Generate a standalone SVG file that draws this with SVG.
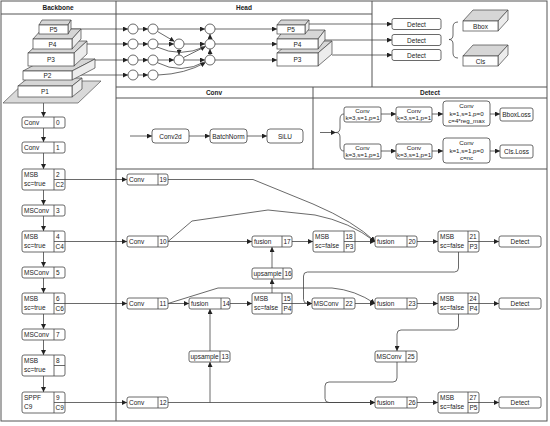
<svg xmlns="http://www.w3.org/2000/svg" width="550" height="426" viewBox="0 0 550 426">
<defs>
<marker id="ar" markerUnits="userSpaceOnUse" markerWidth="5" markerHeight="5" refX="5" refY="2.5" orient="auto"><path d="M0,0 L5,2.5 L0,5 z" fill="#222"/></marker>
<style>
.fr{fill:none;stroke:#555;stroke-width:1}
.nd{fill:#fff;stroke:#444;stroke-width:0.8}
.dv{stroke:#444;stroke-width:0.8}
.ln{fill:none;stroke:#444;stroke-width:0.8}
.a{marker-end:url(#ar)}
.t{font-family:"Liberation Sans",Arial,sans-serif;font-size:6.5px;fill:#222}
.s{font-size:6.2px}
.m{text-anchor:middle}
.h{font-weight:bold;text-anchor:middle;font-size:6.5px}
.top{fill:#d6d6d6;stroke:#444;stroke-width:0.7}
.side{fill:#ececec;stroke:#444;stroke-width:0.7}
.fc{fill:#fff;stroke:#444;stroke-width:0.7}
.pl{fill:#d9d9d9;stroke:#555;stroke-width:0.7}
.c{fill:#fff;stroke:#444;stroke-width:0.8}
</style>
</defs>
<rect width="550" height="426" fill="#fff"/>
<g id="frame" class="fr">
<rect x="1" y="1" width="546" height="420"/>
<line x1="116" y1="1" x2="116" y2="421"/>
<line x1="1" y1="14" x2="372" y2="14"/>
<line x1="372" y1="1" x2="372" y2="87"/>
<line x1="116" y1="87" x2="547" y2="87"/>
<line x1="116" y1="98" x2="547" y2="98"/>
<line x1="313" y1="87" x2="313" y2="169"/>
<line x1="116" y1="169" x2="547" y2="169"/>
</g>
<g id="headers" class="t">
<text class="t h" x="58" y="10">Backbone</text>
<text class="t h" x="244" y="10">Head</text>
<text class="t h" x="214" y="95">Conv</text>
<text class="t h" x="430" y="95">Detect</text>
</g>
<g id="connectors" class="ln">
<path class="a" d="M60,29 H128"/>
<path class="a" d="M60,44 H128"/>
<path class="a" d="M60,60 H128"/>
<path class="a" d="M60,75 H128"/>
<path class="a" d="M138,29 H148"/><path class="a" d="M138,44 H148"/><path class="a" d="M138,60 H148"/><path class="a" d="M138,75 H148"/>
<path class="a" d="M158,29 H205"/><path class="a" d="M215,29 H277"/>
<path class="a" d="M158,44 H174"/><path class="a" d="M184,44 H205"/><path class="a" d="M215,44 H277"/>
<path class="a" d="M158,60 H174"/><path class="a" d="M184,60 H205"/><path class="a" d="M215,60 H277"/>
<path class="a" d="M157.5,31.5 L174.5,41.5"/>
<path class="a" d="M179,49 V55"/>
<path class="a" d="M183.5,57.5 L205.5,46.5"/>
<path d="M157,47 Q180,58 205.5,46.5"/>
<path class="a" d="M210,55 V49"/>
<path class="a" d="M210,39 V34"/>
<path d="M157,62.5 Q181,75 205.5,61.5"/>
<path class="a" d="M158,75 Q185,74 205.5,62.5"/>
<path class="a" d="M309,24 H392"/>
<path class="a" d="M325,40 H392"/>
<path class="a" d="M332,55 H392"/>
<path d="M458,22 Q453,22 453,27 V35 Q453,39.5 449,39.5 Q453,39.5 453,44 V53 Q453,58 458,58"/>
<path class="a" d="M130,136 H152"/><path class="a" d="M189,136 H210"/><path class="a" d="M247,136 H267"/>
<path class="a" d="M320,132.5 H336"/>
<path d="M344,114 Q340,114 340,119 V128 Q340,132.5 336,132.5 Q340,132.5 340,137 V146 Q340,151 344,151"/>
<path class="a" d="M381,114 H396"/><path class="a" d="M432,114 H443"/><path class="a" d="M490,114 H500"/>
<path class="a" d="M381,151 H396"/><path class="a" d="M432,151 H443"/><path class="a" d="M490,151 H500"/>
<path class="a" d="M43.5,103 V117"/><path class="a" d="M43.5,128 V142"/><path class="a" d="M43.5,153 V169"/>
<path class="a" d="M43.5,190 V205"/><path class="a" d="M43.5,216 V231"/><path class="a" d="M43.5,252 V267"/>
<path class="a" d="M43.5,278 V293"/><path class="a" d="M43.5,314 V329"/><path class="a" d="M43.5,340 V355"/>
<path class="a" d="M43.5,376 V392"/>
<path class="a" d="M65,179.5 H127"/><path class="a" d="M65,241.5 H127"/>
<path class="a" d="M65,303.5 H127"/><path class="a" d="M65,402.5 H127"/>
<path class="a" d="M168,179.5 H253 L313,204 Q355,222 375,241.5"/>
<path class="a" d="M168,241.5 L192,221 L268,210 L315,215 Q350,222 375,241.5"/>
<path class="a" d="M168,241.5 H252"/>
<path class="a" d="M292,241.5 H313"/>
<path class="a" d="M355,241.5 H375"/>
<path class="a" d="M417,241.5 H438"/>
<path class="a" d="M479,241.5 H499"/>
<path class="a" d="M458.5,252 V268 Q458.5,272 454.5,272 H307.5 Q303.5,272 303.5,276 V299.5 Q303.5,303.5 307.5,303.5 H312"/>
<path class="a" d="M292,303.5 H312"/>
<path class="a" d="M272,293 V279"/>
<path class="a" d="M272,268 V247"/>
<path class="a" d="M168,303.5 H189"/>
<path class="a" d="M168,303.5 L218,288 H332 Q355,290 375,303.5"/>
<path class="a" d="M230,303.5 H252"/>
<path class="a" d="M210,351 V309"/>
<path class="a" d="M168,402.5 H375"/>
<path class="a" d="M210,402.5 V362"/>
<path class="a" d="M355,303.5 H375"/>
<path class="a" d="M417,303.5 H438"/>
<path class="a" d="M479,303.5 H499"/>
<path class="a" d="M458.5,314 V326 Q458.5,330 454.5,330 H401 Q397,330 397,334 V351"/>
<path class="a" d="M397,362 V378 Q397,382 393,382 H329 Q325,382 325,386 V398.5 Q325,402.5 329,402.5 H375"/>
<path class="a" d="M417,402.5 H438"/>
<path class="a" d="M479,402.5 H499"/>
</g>
<g id="pyramid">
<polygon class="pl" points="3,103 78,103 101,81 26,81"/>
<g id="P1"><polygon class="top" points="18,86 28,78 82,78 72,86"/><polygon class="side" points="72,86 82,78 82,89 72,97"/><rect class="fc" x="18" y="86" width="54" height="11"/><text class="t m" x="45" y="94">P1</text></g>
<g id="P2"><polygon class="top" points="23,71 45,59 95,59 72,71"/><polygon class="side" points="72,71 95,59 95,68 72,80"/><rect class="fc" x="23" y="71" width="49" height="9"/><text class="t m" x="47.5" y="78">P2</text></g>
<g id="P3"><polygon class="top" points="28,53 41,41 87,41 74,53"/><polygon class="side" points="74,53 87,41 87,54 74,66"/><rect class="fc" x="28" y="53" width="46" height="13"/><text class="t m" x="51" y="62">P3</text></g>
<g id="P4"><polygon class="top" points="33,39 42,29 81,29 72,39"/><polygon class="side" points="72,39 81,29 81,39 72,49"/><rect class="fc" x="33" y="39" width="39" height="10"/><text class="t m" x="52.5" y="46.5">P4</text></g>
<g id="P5"><polygon class="top" points="39,25 42,20 71,20 68,25"/><polygon class="side" points="68,25 71,20 71,29 68,34"/><rect class="fc" x="39" y="25" width="29" height="9"/><text class="t m" x="53.5" y="32">P5</text></g>
</g>
<g id="head-circles">
<circle class="c" cx="133" cy="29" r="5"/><circle class="c" cx="133" cy="44" r="5"/><circle class="c" cx="133" cy="60" r="5"/><circle class="c" cx="133" cy="75" r="5"/>
<circle class="c" cx="153" cy="29" r="5"/><circle class="c" cx="153" cy="44" r="5"/><circle class="c" cx="153" cy="60" r="5"/><circle class="c" cx="153" cy="75" r="5"/>
<circle class="c" cx="179" cy="44" r="5"/><circle class="c" cx="179" cy="60" r="5"/>
<circle class="c" cx="210" cy="29" r="5"/><circle class="c" cx="210" cy="44" r="5"/><circle class="c" cx="210" cy="60" r="5"/>
</g>
<g id="head-P3"><polygon class="top" points="277,53 291,41 332,41 318,53"/><polygon class="side" points="318,53 332,41 332,54 318,66"/><rect class="fc" x="277" y="53" width="41" height="13"/><text class="t m" x="297.5" y="62">P3</text></g>
<g id="head-P4"><polygon class="top" points="277,39 284,30 325,30 318,39"/><polygon class="side" points="318,39 325,30 325,40 318,49"/><rect class="fc" x="277" y="39" width="41" height="10"/><text class="t m" x="297.5" y="46.5">P4</text></g>
<g id="head-P5"><polygon class="top" points="277,25 281,20 309,20 305,25"/><polygon class="side" points="305,25 309,20 309,29 305,34"/><rect class="fc" x="277" y="25" width="28" height="9"/><text class="t m" x="291" y="32">P5</text></g>
<g id="top-detect1"><rect class="nd" x="392" y="18.5" width="49" height="11" rx="2"/><text class="t m" x="416.5" y="26.5">Detect</text></g>
<g id="top-detect2"><rect class="nd" x="392" y="34.5" width="49" height="11" rx="2"/><text class="t m" x="416.5" y="42.5">Detect</text></g>
<g id="top-detect3"><rect class="nd" x="392" y="49.5" width="49" height="11" rx="2"/><text class="t m" x="416.5" y="57.5">Detect</text></g>
<g id="bbox"><polygon class="top" points="463,21 473,10 508,10 498,21"/><polygon class="side" points="498,21 508,10 508,20 498,31"/><rect class="fc" x="463" y="21" width="35" height="10"/><text class="t m" x="480.5" y="28.5">Bbox</text></g>
<g id="cls"><polygon class="top" points="463,56 473,45 508,45 498,56"/><polygon class="side" points="498,56 508,45 508,55 498,66"/><rect class="fc" x="463" y="56" width="35" height="10"/><text class="t m" x="480.5" y="63.5">Cls</text></g>
<g id="conv2d"><rect class="nd" x="152" y="129" width="37" height="14" rx="3"/><text class="t m" x="170.5" y="138.5">Conv2d</text></g>
<g id="batchnorm"><rect class="nd" x="210" y="129" width="37" height="14" rx="3"/><text class="t m" x="228.5" y="138.5">BatchNorm</text></g>
<g id="silu"><rect class="nd" x="267" y="129" width="36" height="14" rx="3"/><text class="t m" x="285" y="138.5">SiLU</text></g>
<g id="d-conv-a1"><rect class="nd" x="344" y="107" width="37" height="15" rx="2"/><text class="t m s" x="362.5" y="113">Conv</text><text class="t m s" x="362.5" y="120">k=3,s=1,p=1</text></g>
<g id="d-conv-a2"><rect class="nd" x="396" y="107" width="36" height="15" rx="2"/><text class="t m s" x="414" y="113">Conv</text><text class="t m s" x="414" y="120">k=3,s=1,p=1</text></g>
<g id="d-conv-a3"><rect class="nd" x="443" y="101" width="47" height="25" rx="3"/><text class="t m s" x="466.5" y="108">Conv</text><text class="t m s" x="466.5" y="115.5">k=1,s=1,p=0</text><text class="t m s" x="466.5" y="123">c=4*reg_max</text></g>
<g id="bboxloss"><rect class="nd" x="500" y="108" width="33" height="13" rx="2"/><text class="t m" x="516.5" y="116.5">BboxLoss</text></g>
<g id="d-conv-b1"><rect class="nd" x="344" y="144" width="37" height="15" rx="2"/><text class="t m s" x="362.5" y="150">Conv</text><text class="t m s" x="362.5" y="157">k=3,s=1,p=1</text></g>
<g id="d-conv-b2"><rect class="nd" x="396" y="144" width="36" height="15" rx="2"/><text class="t m s" x="414" y="150">Conv</text><text class="t m s" x="414" y="157">k=3,s=1,p=1</text></g>
<g id="d-conv-b3"><rect class="nd" x="443" y="138" width="47" height="25" rx="3"/><text class="t m s" x="466.5" y="145">Conv</text><text class="t m s" x="466.5" y="152.5">k=1,s=1,p=0</text><text class="t m s" x="466.5" y="160">c=nc</text></g>
<g id="clsloss"><rect class="nd" x="500" y="145" width="33" height="13" rx="2"/><text class="t m" x="516.5" y="153.5">Cls.Loss</text></g>
<g id="n0"><rect class="nd" x="22" y="117" width="43" height="11" rx="2"/><line class="dv" x1="54" y1="117" x2="54" y2="128"/><text class="t" x="24" y="125">Conv</text><text class="t" x="56" y="125">0</text></g>
<g id="n1"><rect class="nd" x="22" y="142" width="43" height="11" rx="2"/><line class="dv" x1="54" y1="142" x2="54" y2="153"/><text class="t" x="24" y="150">Conv</text><text class="t" x="56" y="150">1</text></g>
<g id="n2"><rect class="nd" x="22" y="169" width="43" height="21" rx="2"/><line class="dv" x1="54" y1="169" x2="54" y2="190"/><line class="dv" x1="54" y1="179.5" x2="65" y2="179.5"/><text class="t" x="24" y="177">MSB</text><text class="t" x="24" y="186">sc=true</text><text class="t" x="56" y="177">2</text><text class="t" x="55.5" y="187">C2</text></g>
<g id="n3"><rect class="nd" x="22" y="205" width="43" height="11" rx="2"/><line class="dv" x1="54" y1="205" x2="54" y2="216"/><text class="t" x="24" y="213">MSConv</text><text class="t" x="56" y="213">3</text></g>
<g id="n4"><rect class="nd" x="22" y="231" width="43" height="21" rx="2"/><line class="dv" x1="54" y1="231" x2="54" y2="252"/><line class="dv" x1="54" y1="241.5" x2="65" y2="241.5"/><text class="t" x="24" y="239">MSB</text><text class="t" x="24" y="248">sc=true</text><text class="t" x="56" y="239">4</text><text class="t" x="55.5" y="249">C4</text></g>
<g id="n5"><rect class="nd" x="22" y="267" width="43" height="11" rx="2"/><line class="dv" x1="54" y1="267" x2="54" y2="278"/><text class="t" x="24" y="275">MSConv</text><text class="t" x="56" y="275">5</text></g>
<g id="n6"><rect class="nd" x="22" y="293" width="43" height="21" rx="2"/><line class="dv" x1="54" y1="293" x2="54" y2="314"/><line class="dv" x1="54" y1="303.5" x2="65" y2="303.5"/><text class="t" x="24" y="301">MSB</text><text class="t" x="24" y="310">sc=true</text><text class="t" x="56" y="301">6</text><text class="t" x="55.5" y="311">C6</text></g>
<g id="n7"><rect class="nd" x="22" y="329" width="43" height="11" rx="2"/><line class="dv" x1="54" y1="329" x2="54" y2="340"/><text class="t" x="24" y="337">MSConv</text><text class="t" x="56" y="337">7</text></g>
<g id="n8"><rect class="nd" x="22" y="355" width="43" height="21" rx="2"/><line class="dv" x1="54" y1="355" x2="54" y2="376"/><line class="dv" x1="54" y1="365.5" x2="65" y2="365.5"/><text class="t" x="24" y="363">MSB</text><text class="t" x="24" y="372">sc=true</text><text class="t" x="56" y="363">8</text></g>
<g id="n9"><rect class="nd" x="22" y="392" width="43" height="21" rx="2"/><line class="dv" x1="54" y1="392" x2="54" y2="413"/><line class="dv" x1="54" y1="402.5" x2="65" y2="402.5"/><text class="t" x="24" y="400">SPPF</text><text class="t" x="24" y="409">C9</text><text class="t" x="56" y="400">9</text><text class="t" x="55.5" y="410">C9</text></g>
<g id="n19"><rect class="nd" x="127" y="174" width="41" height="11" rx="2"/><line class="dv" x1="158" y1="174" x2="158" y2="185"/><text class="t" x="129" y="182">Conv</text><text class="t" x="159.5" y="182">19</text></g>
<g id="n10"><rect class="nd" x="127" y="236" width="41" height="11" rx="2"/><line class="dv" x1="158" y1="236" x2="158" y2="247"/><text class="t" x="129" y="244">Conv</text><text class="t" x="159.5" y="244">10</text></g>
<g id="n11"><rect class="nd" x="127" y="298" width="41" height="11" rx="2"/><line class="dv" x1="158" y1="298" x2="158" y2="309"/><text class="t" x="129" y="306">Conv</text><text class="t" x="159.5" y="306">11</text></g>
<g id="n12"><rect class="nd" x="127" y="397" width="41" height="11" rx="2"/><line class="dv" x1="158" y1="397" x2="158" y2="408"/><text class="t" x="129" y="405">Conv</text><text class="t" x="159.5" y="405">12</text></g>
<g id="n13"><rect class="nd" x="189" y="351" width="41" height="11" rx="2"/><line class="dv" x1="220" y1="351" x2="220" y2="362"/><text class="t" x="190.5" y="359">upsample</text><text class="t" x="221.5" y="359">13</text></g>
<g id="n14"><rect class="nd" x="189" y="298" width="41" height="11" rx="2"/><line class="dv" x1="221" y1="298" x2="221" y2="309"/><text class="t" x="191" y="306">fusion</text><text class="t" x="222.5" y="306">14</text></g>
<g id="n15"><rect class="nd" x="252" y="293" width="40" height="21" rx="2"/><line class="dv" x1="282" y1="293" x2="282" y2="314"/><line class="dv" x1="282" y1="303.5" x2="292" y2="303.5"/><text class="t" x="254" y="301">MSB</text><text class="t" x="254" y="310">sc=false</text><text class="t" x="283.5" y="301">15</text><text class="t" x="283.5" y="311">P4</text></g>
<g id="n16"><rect class="nd" x="252" y="268" width="40" height="11" rx="2"/><line class="dv" x1="283" y1="268" x2="283" y2="279"/><text class="t" x="253.5" y="276">upsample</text><text class="t" x="284.5" y="276">16</text></g>
<g id="n17"><rect class="nd" x="252" y="236" width="40" height="11" rx="2"/><line class="dv" x1="282" y1="236" x2="282" y2="247"/><text class="t" x="254" y="244">fusion</text><text class="t" x="283.5" y="244">17</text></g>
<g id="n18"><rect class="nd" x="313" y="231" width="42" height="21" rx="2"/><line class="dv" x1="344" y1="231" x2="344" y2="252"/><line class="dv" x1="344" y1="241.5" x2="355" y2="241.5"/><text class="t" x="315" y="239">MSB</text><text class="t" x="315" y="248">sc=false</text><text class="t" x="345.5" y="239">18</text><text class="t" x="345.5" y="249">P3</text></g>
<g id="n20"><rect class="nd" x="375" y="236" width="42" height="11" rx="2"/><line class="dv" x1="407" y1="236" x2="407" y2="247"/><text class="t" x="377" y="244">fusion</text><text class="t" x="408.5" y="244">20</text></g>
<g id="n21"><rect class="nd" x="438" y="231" width="41" height="21" rx="2"/><line class="dv" x1="468" y1="231" x2="468" y2="252"/><line class="dv" x1="468" y1="241.5" x2="479" y2="241.5"/><text class="t" x="440" y="239">MSB</text><text class="t" x="440" y="248">sc=false</text><text class="t" x="469.5" y="239">21</text><text class="t" x="469.5" y="249">P3</text></g>
<g id="det21"><rect class="nd" x="499" y="236" width="42" height="11" rx="2"/><text class="t m" x="520" y="244">Detect</text></g>
<g id="n22"><rect class="nd" x="312" y="298" width="43" height="11" rx="2"/><line class="dv" x1="344" y1="298" x2="344" y2="309"/><text class="t" x="313.5" y="306">MSConv</text><text class="t" x="345.5" y="306">22</text></g>
<g id="n23"><rect class="nd" x="375" y="298" width="42" height="11" rx="2"/><line class="dv" x1="407" y1="298" x2="407" y2="309"/><text class="t" x="377" y="306">fusion</text><text class="t" x="408.5" y="306">23</text></g>
<g id="n24"><rect class="nd" x="438" y="293" width="41" height="21" rx="2"/><line class="dv" x1="468" y1="293" x2="468" y2="314"/><line class="dv" x1="468" y1="303.5" x2="479" y2="303.5"/><text class="t" x="440" y="301">MSB</text><text class="t" x="440" y="310">sc=false</text><text class="t" x="469.5" y="301">24</text><text class="t" x="469.5" y="311">P4</text></g>
<g id="det24"><rect class="nd" x="499" y="298" width="42" height="11" rx="2"/><text class="t m" x="520" y="306">Detect</text></g>
<g id="n25"><rect class="nd" x="375" y="351" width="42" height="11" rx="2"/><line class="dv" x1="406" y1="351" x2="406" y2="362"/><text class="t" x="376.5" y="359">MSConv</text><text class="t" x="407.5" y="359">25</text></g>
<g id="n26"><rect class="nd" x="375" y="397" width="42" height="11" rx="2"/><line class="dv" x1="407" y1="397" x2="407" y2="408"/><text class="t" x="377" y="405">fusion</text><text class="t" x="408.5" y="405">26</text></g>
<g id="n27"><rect class="nd" x="438" y="392" width="41" height="21" rx="2"/><line class="dv" x1="468" y1="392" x2="468" y2="413"/><line class="dv" x1="468" y1="402.5" x2="479" y2="402.5"/><text class="t" x="440" y="400">MSB</text><text class="t" x="440" y="409">sc=false</text><text class="t" x="469.5" y="400">27</text><text class="t" x="469.5" y="410">P5</text></g>
<g id="det27"><rect class="nd" x="499" y="397" width="42" height="11" rx="2"/><text class="t m" x="520" y="405">Detect</text></g>
</svg>
